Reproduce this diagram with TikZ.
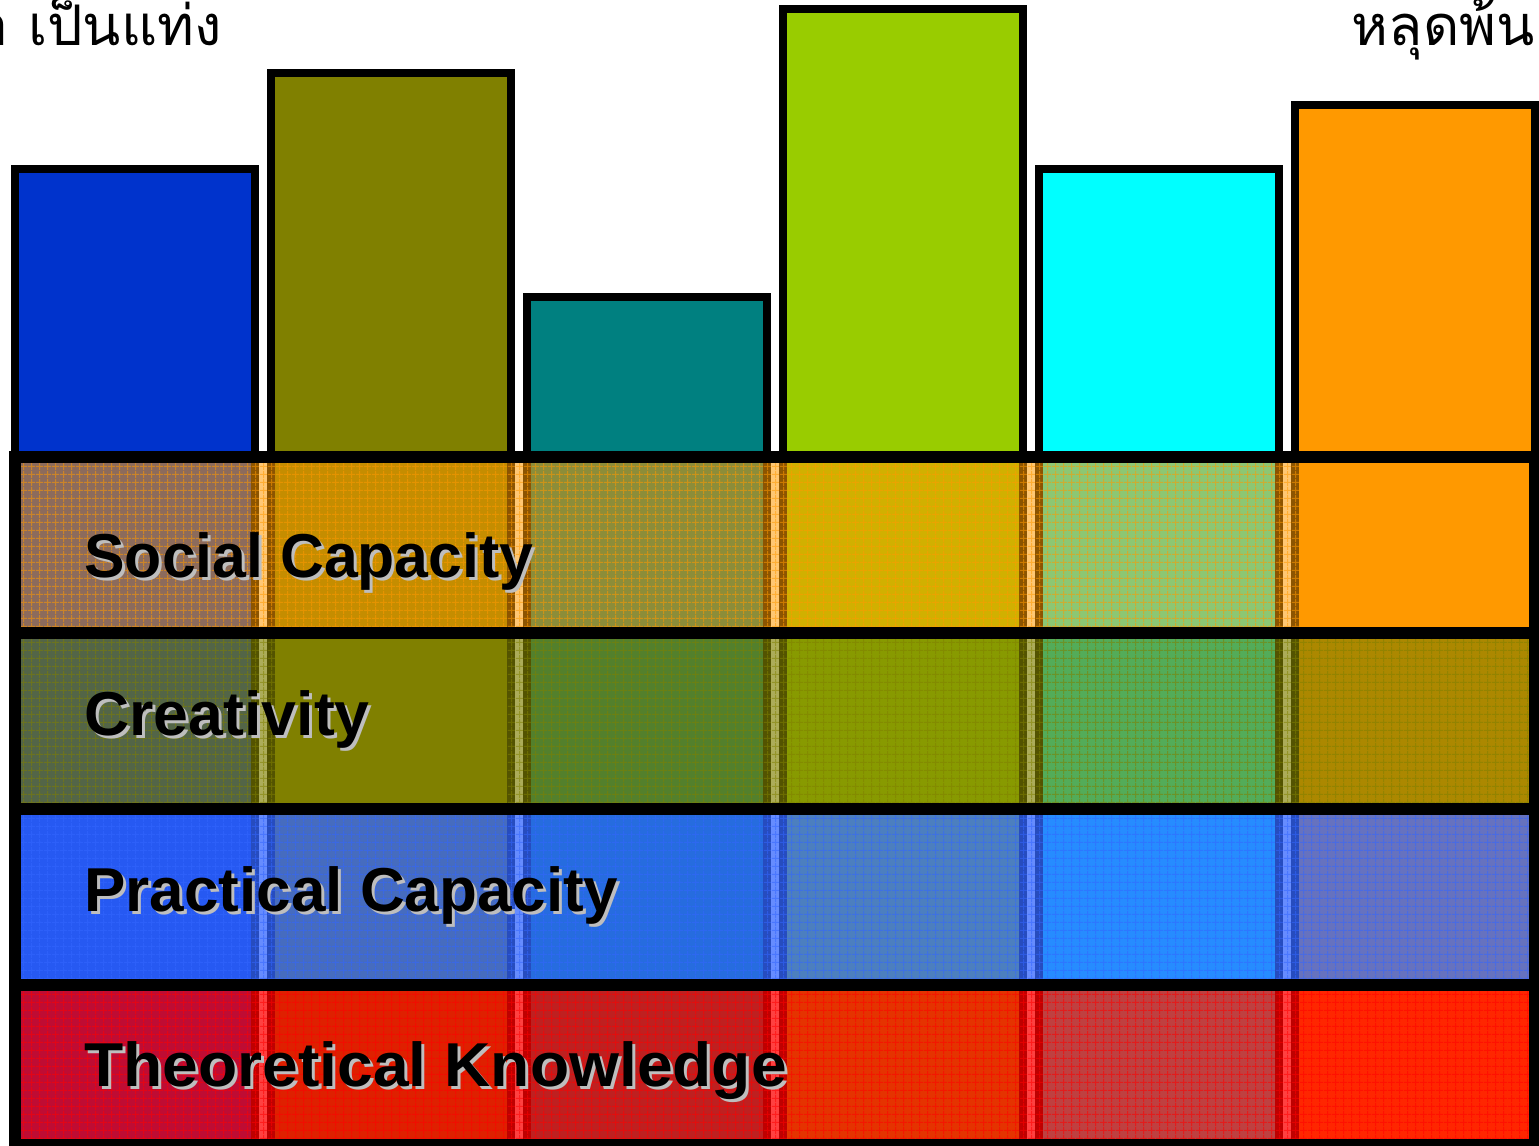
\documentclass[tikz,border=0pt]{standalone}
\usepackage{fontspec}
\setmainfont{Liberation Sans}
\newfontfamily\thaifont[Script=Thai]{Loma}
\usetikzlibrary{patterns.meta}
\definecolor{barA}{HTML}{0033CC}
\definecolor{barB}{HTML}{808000}
\definecolor{barC}{HTML}{008080}
\definecolor{barD}{HTML}{99CC00}
\definecolor{barE}{HTML}{00FFFF}
\definecolor{barF}{HTML}{FF9900}
\definecolor{bandA}{HTML}{FF9900}
\definecolor{bandB}{HTML}{808000}
\definecolor{bandC}{HTML}{3366FF}
\definecolor{bandD}{HTML}{FF0000}
\definecolor{txtshadow}{HTML}{BEBEBE}
\tikzset{
  barbox/.style={draw=black, line width=4pt},
  bandline/.style={draw=black, line width=6pt},
  bandtex/.style={pattern={Hatch[angle=0,distance=4pt,line width=0.5pt]}, pattern color=#1, fill opacity=0.55},
  lbl/.style={inner sep=0pt, font=\fontsize{31}{37}\selectfont\bfseries},
  thaitxt/.style={inner sep=0pt, font=\fontsize{28}{34}\selectfont\thaifont},
}
\begin{document}
\begin{tikzpicture}[x=0.5pt,y=-0.5pt]
\useasboundingbox (0,0) rectangle (1539,1146);
% bars
\draw[barbox, fill=barA] (15,169) rectangle (255,1200);
\draw[barbox, fill=barB] (271,73) rectangle (511,1200);
\draw[barbox, fill=barC] (527,297) rectangle (767,1200);
\draw[barbox, fill=barD] (783,9) rectangle (1023,1200);
\draw[barbox, fill=barE] (1039,169) rectangle (1279,1200);
\draw[barbox, fill=barF] (1295,105) rectangle (1535,1200);
% bands
\fill[bandA, fill opacity=0.55] (15,457) rectangle (1535,633);
\fill[bandtex=bandA] (15,457) rectangle (1535,633);
\fill[bandB, fill opacity=0.65] (15,633) rectangle (1535,809);
\fill[bandtex=bandB] (15,633) rectangle (1535,809);
\fill[bandC, fill opacity=0.75] (15,809) rectangle (1535,985);
\fill[bandtex=bandC] (15,809) rectangle (1535,985);
\fill[bandD, fill opacity=0.75] (15,985) rectangle (1535,1145);
\fill[bandtex=bandD] (15,985) rectangle (1535,1145);
\draw[bandline] (15,457) rectangle (1535,1145);
\draw[bandline] (15,633) -- (1535,633);
\draw[bandline] (15,809) -- (1535,809);
\draw[bandline] (15,985) -- (1535,985);
% labels
\node[lbl, txtshadow, anchor=base west, xscale=0.98] (socS) at (87,580) {Social Capacity};
\node[lbl, anchor=base west, xscale=0.98] (soc) at (84,577) {Social Capacity};
\node[lbl, txtshadow, anchor=base west, xscale=1.01] (creS) at (87,738) {Creativity};
\node[lbl, anchor=base west, xscale=1.01] (cre) at (84,735) {Creativity};
\node[lbl, txtshadow, anchor=base west] (praS) at (87,914) {Practical Capacity};
\node[lbl, anchor=base west] (pra) at (84,911) {Practical Capacity};
\node[lbl, txtshadow, anchor=base west, xscale=1.035] (theS) at (87,1089) {Theoretical Knowledge};
\node[lbl, anchor=base west, xscale=1.035] (the) at (84,1086) {Theoretical Knowledge};
% Thai texts
\node[thaitxt, anchor=base east] (thL) at (222,45) {า เป็นแท่ง};
\node[thaitxt, anchor=base east] (thR) at (1535,45) {หลุดพ้น};
\end{tikzpicture}
\end{document}
